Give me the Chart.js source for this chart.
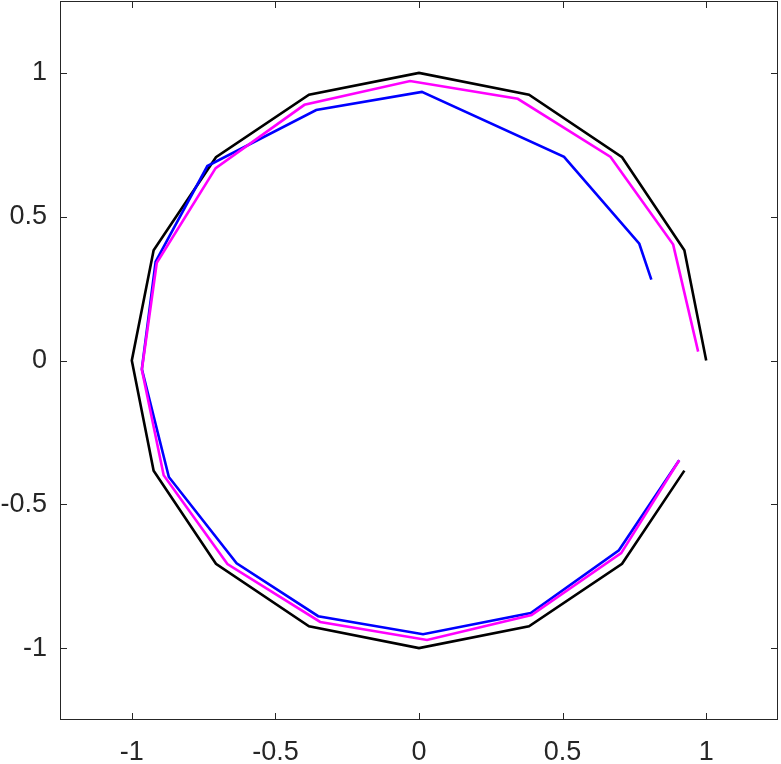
<!DOCTYPE html>
<html>
<head>
<meta charset="utf-8">
<script src="https://cdn.jsdelivr.net/npm/chart.js@4"></script>
<style>
  html, body { margin: 0; padding: 0; background: #fff; }
  #wrap { width: 781px; height: 764px; }
</style>
</head>
<body>
<div id="wrap"><canvas id="circleChart" width="781" height="764"></canvas></div>
<script>
// tick values shown on both axes
const xTicks = [-1, -0.5, 0, 0.5, 1];
const yTicks = [-1, -0.5, 0, 0.5, 1];

// black: reference 16-gon
const blackX = [1, 0.924, 0.707, 0.383, 0, -0.383, -0.707, -0.924, -1, -0.924, -0.707, -0.383, 0, 0.383, 0.707, 0.924];
const blackY = [0, 0.383, 0.707, 0.924, 1, 0.924, 0.707, 0.383, 0, -0.383, -0.707, -0.924, -1, -0.924, -0.707, -0.383];

// magenta
const magentaX = [0.972, 0.885, 0.667, 0.344, -0.031, -0.399, -0.708, -0.913, -0.965, -0.889, -0.667, -0.344, 0.028, 0.392, 0.704, 0.906];
const magentaY = [0.031, 0.403, 0.708, 0.910, 0.972, 0.889, 0.669, 0.340, -0.032, -0.399, -0.708, -0.909, -0.972, -0.885, -0.670, -0.347];

// blue
const blueX = [0.809, 0.767, 0.505, 0.010, -0.358, -0.737, -0.917, -0.965, -0.871, -0.635, -0.351, 0.014, 0.389, 0.696, 0.906];
const blueY = [0.281, 0.406, 0.708, 0.934, 0.871, 0.676, 0.344, -0.030, -0.405, -0.705, -0.889, -0.952, -0.878, -0.660, -0.347];

const AXIS_COLOR = '#262626';
const FONT = { family: '"Liberation Sans", Arial, Helvetica, sans-serif', size: 27 };

function toPoints(xs, ys) {
    return xs.map((x, i) => ({ x: x, y: ys[i] }));
}

function lineSet(label, xs, ys, color, order) {
    return {
        label: label,
        data: toPoints(xs, ys),
        showLine: true,
        borderColor: color,
        backgroundColor: color,
        borderWidth: 2.6,
        pointRadius: 0,
        tension: 0,
        fill: false,
        order: order
    };
}

// box around the plot area with inward ticks on all four sides
const boxPlugin = {
    id: 'matlabBox',
    afterDraw(chart) {
        const ctx = chart.ctx;
        const a = chart.chartArea;
        const xs = chart.scales.x;
        const ys = chart.scales.y;
        const len = 7;
        ctx.save();
        ctx.strokeStyle = AXIS_COLOR;
        ctx.lineWidth = 1;
        ctx.strokeRect(a.left + 0.5, a.top + 0.5, a.right - a.left - 1, a.bottom - a.top - 1);
        ctx.beginPath();
        xTicks.forEach(v => {
            const px = Math.round(xs.getPixelForValue(v)) + 0.5;
            ctx.moveTo(px, a.bottom);
            ctx.lineTo(px, a.bottom - len);
            ctx.moveTo(px, a.top);
            ctx.lineTo(px, a.top + len);
        });
        yTicks.forEach(v => {
            const py = Math.round(ys.getPixelForValue(v)) + 0.5;
            ctx.moveTo(a.left, py);
            ctx.lineTo(a.left + len, py);
            ctx.moveTo(a.right, py);
            ctx.lineTo(a.right - len, py);
        });
        ctx.stroke();
        ctx.restore();
    }
};

function axis(ticks, isX) {
    return {
        type: 'linear',
        min: -1.25,
        max: 1.25,
        grid: { display: false, drawTicks: false },
        border: { display: false },
        afterBuildTicks(scale) {
            scale.ticks = ticks.map(v => ({ value: v }));
        },
        afterFit(scale) {
            if (isX) {
                scale.height = 44;
                scale.paddingLeft = 0;
                scale.paddingRight = 0;
            } else {
                scale.width = 60;
                scale.paddingTop = 0;
                scale.paddingBottom = 0;
            }
        },
        ticks: {
            color: AXIS_COLOR,
            font: FONT,
            padding: isX ? 16 : 13,
            maxRotation: 0,
            autoSkip: false,
            callback: v => String(v)
        }
    };
}

new Chart(document.getElementById('circleChart'), {
    type: 'scatter',
    data: {
        datasets: [
            lineSet('magenta', magentaX, magentaY, '#ff00ff', 0),
            lineSet('blue', blueX, blueY, '#0000ff', 1),
            lineSet('black', blackX, blackY, '#000000', 2)
        ]
    },
    options: {
        responsive: false,
        devicePixelRatio: 1,
        animation: false,
        layout: { padding: { top: 1, right: 3, left: 0, bottom: 0 } },
        plugins: {
            legend: { display: false },
            tooltip: { enabled: false }
        },
        scales: {
            x: axis(xTicks, true),
            y: axis(yTicks, false)
        }
    },
    plugins: [boxPlugin]
});
</script>
</body>
</html>
